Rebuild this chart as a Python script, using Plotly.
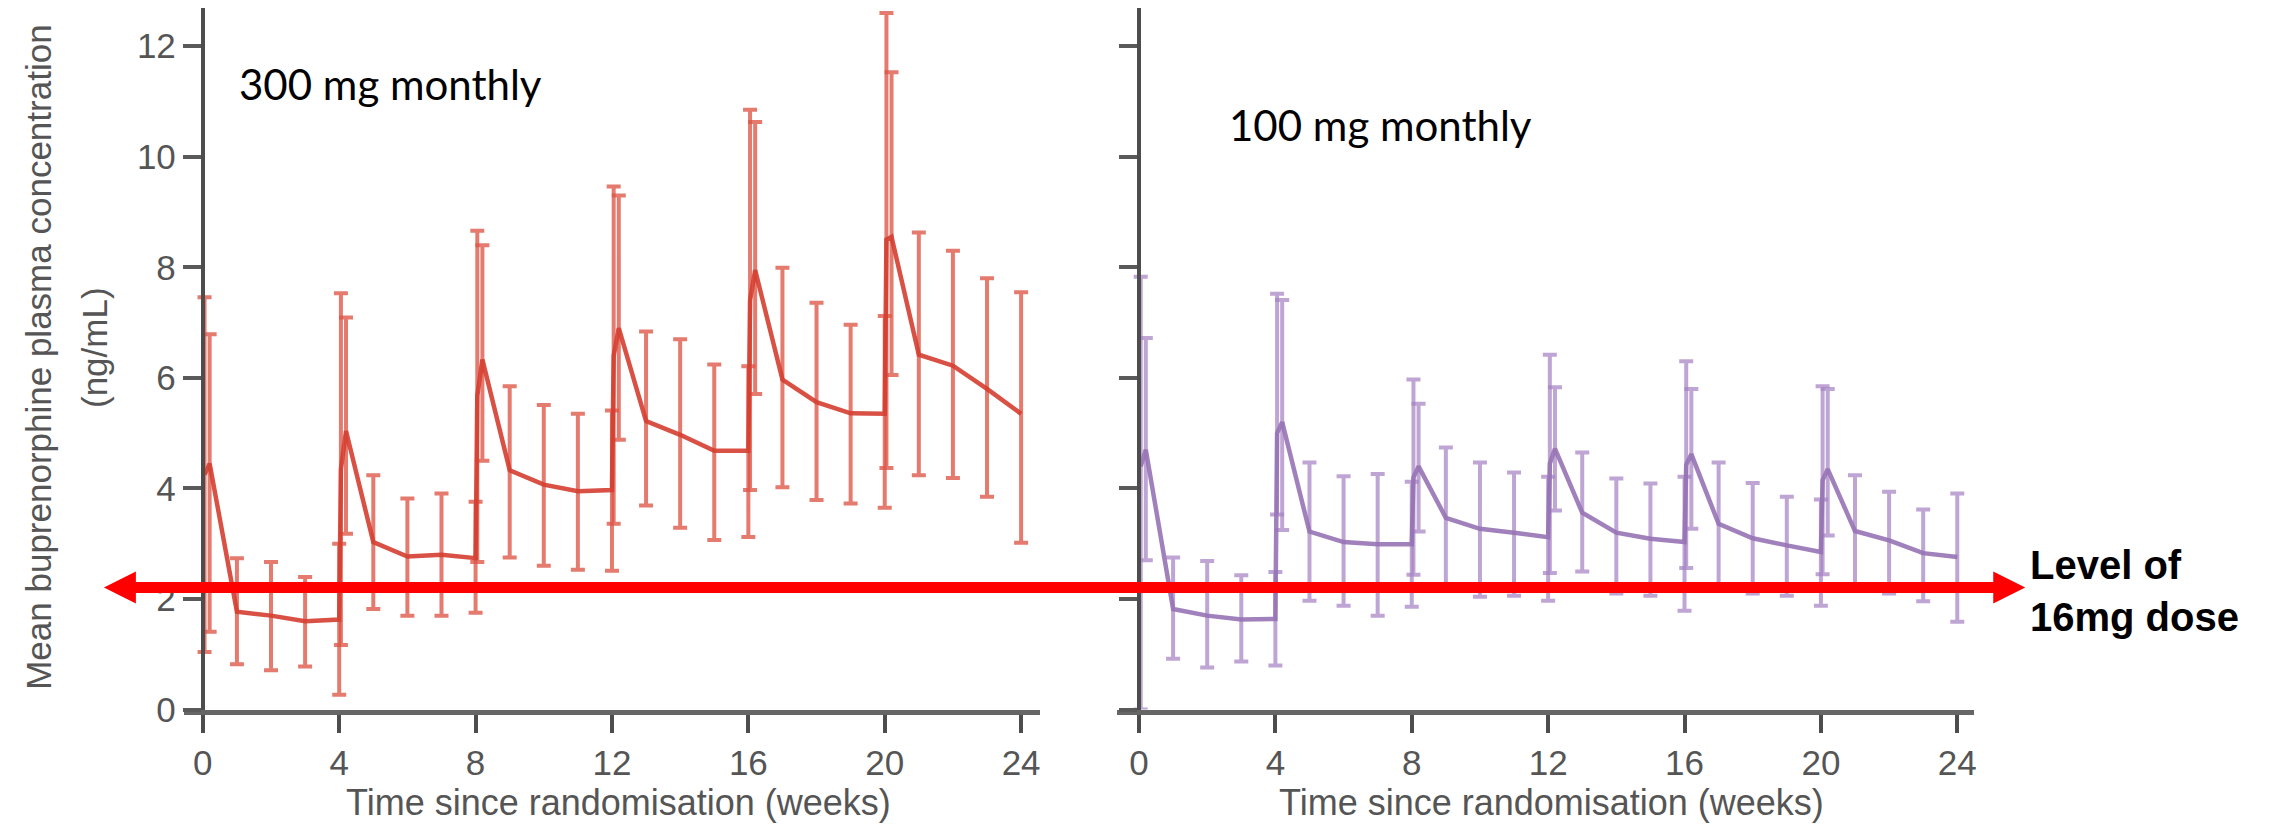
import plotly.graph_objects as go

# ---------------- data ----------------
weeks = [0.05, 0.2, 1, 2, 3, 4, 4.05, 4.2, 5, 6, 7, 8, 8.05, 8.2, 9, 10, 11, 12, 12.05, 12.2,
         13, 14, 15, 16, 16.05, 16.2, 17, 18, 19, 20, 20.05, 20.2, 21, 22, 23, 24]

mean_300 = [4.25, 4.45, 1.77, 1.70, 1.60, 1.63, 4.35, 5.04, 3.03, 2.77, 2.80, 2.74, 5.68, 6.33,
            4.33, 4.07, 3.95, 3.97, 6.40, 6.90, 5.22, 4.97, 4.68, 4.68, 7.40, 7.95, 5.97, 5.56,
            5.36, 5.35, 8.50, 8.55, 6.42, 6.22, 5.80, 5.35]
upper_300 = [7.46, 6.79, 2.74, 2.67, 2.40, 3.00, 7.53, 7.09, 4.24, 3.82, 3.91, 3.76, 8.66, 8.40,
             5.85, 5.51, 5.35, 5.41, 9.46, 9.30, 6.84, 6.70, 6.24, 6.21, 10.85, 10.63, 7.99, 7.36,
             6.96, 7.12, 12.60, 11.53, 8.63, 8.30, 7.80, 7.55]
lower_300 = [1.04, 1.41, 0.82, 0.71, 0.78, 0.27, 1.17, 3.18, 1.82, 1.70, 1.70, 1.75, 2.67, 4.50,
             2.75, 2.60, 2.53, 2.51, 3.36, 4.88, 3.69, 3.29, 3.07, 3.12, 3.97, 5.71, 4.02, 3.79,
             3.73, 3.65, 4.37, 6.05, 4.24, 4.19, 3.85, 3.02]

mean_100 = [4.40, 4.70, 1.82, 1.70, 1.63, 1.64, 5.00, 5.20, 3.22, 3.03, 2.99, 2.99, 4.20, 4.40,
            3.47, 3.27, 3.20, 3.12, 4.45, 4.72, 3.56, 3.20, 3.09, 3.03, 4.43, 4.62, 3.36, 3.10,
            2.97, 2.85, 4.15, 4.35, 3.23, 3.06, 2.83, 2.76]
upper_100 = [7.83, 6.72, 2.75, 2.69, 2.43, 2.49, 7.52, 7.41, 4.47, 4.22, 4.26, 4.12, 5.97, 5.53,
             4.74, 4.47, 4.29, 4.21, 6.42, 5.83, 4.65, 4.18, 4.09, 4.21, 6.30, 5.80, 4.47, 4.10,
             3.85, 3.80, 5.85, 5.80, 4.24, 3.94, 3.62, 3.91]
lower_100 = [0.00, 2.70, 0.92, 0.76, 0.87, 0.80, 3.53, 3.25, 1.97, 1.88, 1.70, 1.86, 2.44, 3.22,
             2.15, 2.04, 2.06, 1.97, 2.47, 3.60, 2.50, 2.10, 2.06, 1.79, 2.56, 3.27, 2.15, 2.10,
             2.06, 1.88, 2.45, 3.15, 2.15, 2.10, 1.96, 1.59]

x_ticks = [0, 4, 8, 12, 16, 20, 24]
y_ticks = [0, 2, 4, 6, 8, 10, 12]
level_16mg = 2.21

label_300 = "300 mg monthly"
label_100 = "100 mg monthly"
x_title = "Time since randomisation (weeks)"
y_title_1 = "Mean buprenorphine plasma concentration"
y_title_2 = "(ng/mL)"
level_text = "<b>Level of<br>16mg dose</b>"

# ---------------- styling / layout ----------------
W, H = 2269, 833
def fx(p):  # pixel -> paper x
    return p / W
def fy(p):  # pixel -> paper y
    return 1 - p / H

RED_LINE = "rgba(212,62,48,0.9)"
RED_EB = "rgba(222,85,70,0.78)"
PUR_LINE = "rgba(150,115,180,0.9)"
PUR_EB = "rgba(165,130,195,0.72)"
AX = "#4d4d4d"
TXT = "#555555"
SANS = "Liberation Sans, Arial, sans-serif"

def err(mean, up, lo):
    return [u - m for u, m in zip(up, mean)], [m - l for m, l in zip(mean, lo)]

fig = go.Figure()
ep, em = err(mean_300, upper_300, lower_300)
fig.add_trace(go.Scatter(
    x=weeks, y=mean_300, mode="lines", line=dict(color=RED_LINE, width=4.5),
    error_y=dict(type="data", symmetric=False, array=ep, arrayminus=em,
                 color=RED_EB, thickness=4, width=7),
    xaxis="x", yaxis="y", showlegend=False, hoverinfo="skip"))
ep, em = err(mean_100, upper_100, lower_100)
fig.add_trace(go.Scatter(
    x=weeks, y=mean_100, mode="lines", line=dict(color=PUR_LINE, width=4.5),
    error_y=dict(type="data", symmetric=False, array=ep, arrayminus=em,
                 color=PUR_EB, thickness=4, width=7),
    xaxis="x2", yaxis="y2", showlegend=False, hoverinfo="skip"))

px_per_week = 34.125
px_per_unit = 56.58
y_bottom = 718
yrange = [0, y_bottom / px_per_unit]
ydom = [fy(y_bottom), 1.0]

def xaxis_cfg(left_px, right_px, zero_px, anchor):
    return dict(domain=[fx(left_px), fx(right_px)],
                range=[(left_px - zero_px) / px_per_week, (right_px - zero_px) / px_per_week],
                anchor=anchor, showline=True, linecolor="#666666", linewidth=5,
                ticks="outside", ticklen=18, tickwidth=4, tickcolor=AX,
                tickvals=x_ticks, ticktext=[str(t) for t in x_ticks],
                tickfont=dict(family=SANS, size=35, color=TXT),
                showgrid=False, zeroline=False, fixedrange=True)

def yaxis_cfg(pos_px, labels):
    return dict(domain=ydom, range=yrange, anchor="free", position=fx(pos_px),
                showline=True, linecolor=AX, linewidth=4,
                ticks="outside", ticklen=18, tickwidth=4, tickcolor="#5a5a5a",
                tickvals=y_ticks, ticktext=[str(t) for t in y_ticks],
                showticklabels=labels,
                tickfont=dict(family=SANS, size=35, color=TXT),
                showgrid=False, zeroline=False, fixedrange=True)

fig.update_layout(
    width=W, height=H, margin=dict(l=0, r=0, t=0, b=0),
    paper_bgcolor="white", plot_bgcolor="white",
    xaxis=xaxis_cfg(176, 1033, 195, "y"),
    yaxis=yaxis_cfg(195, True),
    xaxis2=xaxis_cfg(1110, 1968, 1132, "y2"),
    yaxis2=yaxis_cfg(1132, False),
)

# red double-headed arrow at the 16 mg level
RED = "#ff0000"
fig.add_shape(type="line", xref="paper", yref="y", x0=fx(126), x1=fx(1990),
              y0=level_16mg, y1=level_16mg, line=dict(color=RED, width=11), layer="above")
for tip, base in [(96, 128), (2019, 1987)]:
    fig.add_shape(type="path", xref="paper", yref="y", ysizemode="pixel", yanchor=level_16mg,
                  path=f"M {fx(tip)},0 L {fx(base)},16 L {fx(base)},-16 Z",
                  fillcolor=RED, line=dict(color=RED, width=0), layer="above")

ann = []
ann.append(dict(text=label_300, x=fx(229), y=fy(78), xref="paper", yref="paper",
                xanchor="left", yanchor="middle", showarrow=False,
                font=dict(family="Lato, Open Sans, sans-serif", size=42, color="#000000")))
ann.append(dict(text=label_100, x=fx(1220), y=fy(120), xref="paper", yref="paper",
                xanchor="left", yanchor="middle", showarrow=False,
                font=dict(family="Lato, Open Sans, sans-serif", size=42, color="#000000")))
ann.append(dict(text=level_text, x=fx(2022), y=fy(597), xref="paper", yref="paper",
                xanchor="left", yanchor="middle", align="left", showarrow=False,
                font=dict(family=SANS, size=40, color="#000000")))
for cx in (611, 1545):
    ann.append(dict(text=x_title, x=fx(cx), y=fy(813), xref="paper", yref="paper",
                    xanchor="center", yanchor="middle", showarrow=False,
                    font=dict(family=SANS, size=36, color=TXT)))
ann.append(dict(text=y_title_1, x=fx(31), y=fy(357), xref="paper", yref="paper",
                xanchor="center", yanchor="middle", textangle=-90, showarrow=False,
                font=dict(family=SANS, size=35, color=TXT)))
ann.append(dict(text=y_title_2, x=fx(86), y=fy(347), xref="paper", yref="paper",
                xanchor="center", yanchor="middle", textangle=-90, showarrow=False,
                font=dict(family=SANS, size=35, color=TXT)))
fig.update_layout(annotations=ann)

fig.write_html("out.html")
